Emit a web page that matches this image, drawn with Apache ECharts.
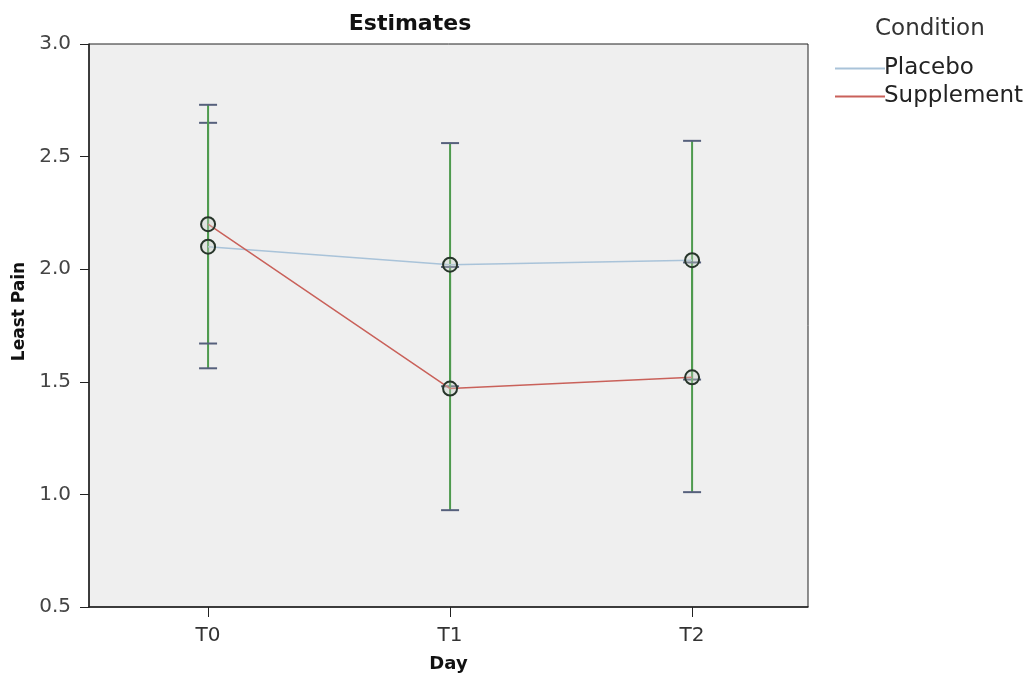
<!DOCTYPE html>
<html>
<head>
<meta charset="utf-8">
<script src="https://cdn.jsdelivr.net/npm/echarts@6/dist/echarts.min.js"></script>
<style>
  html, body { margin: 0; padding: 0; background: #fff; }
  #chart { width: 1034px; height: 681px; }
</style>
</head>
<body>
<div id="chart"></div>
<script>
// data
var days = ['T0', 'T1', 'T2'];
var placeboMean = [2.10, 2.02, 2.04];
var placeboLow = [1.56, 1.48, 1.51];
var placeboHigh = [2.65, 2.56, 2.57];
var suppMean = [2.20, 1.47, 1.52];
var suppLow = [1.67, 0.93, 1.01];
var suppHigh = [2.73, 2.01, 2.03];

var font = 'DejaVu Sans';

function pairs(vals) {
    var out = [];
    for (var i = 0; i < vals.length; i++) out.push([i, vals[i]]);
    return out;
}
function errData(low, high) {
    var out = [];
    for (var i = 0; i < low.length; i++) out.push([i, low[i], high[i]]);
    return out;
}

// vertical whisker with caps
function renderErr(params, api) {
    var x = api.value(0);
    var lo = api.coord([x, api.value(1)]);
    var hi = api.coord([x, api.value(2)]);
    var w = 9;
    return {
        type: 'group',
        children: [
            { type: 'line', shape: { x1: lo[0], y1: lo[1], x2: hi[0], y2: hi[1] },
              style: { stroke: '#4e9a4e', lineWidth: 2 } },
            { type: 'line', shape: { x1: hi[0] - w, y1: hi[1], x2: hi[0] + w, y2: hi[1] },
              style: { stroke: '#56607c', lineWidth: 2 } },
            { type: 'line', shape: { x1: lo[0] - w, y1: lo[1], x2: lo[0] + w, y2: lo[1] },
              style: { stroke: '#56607c', lineWidth: 2 } }
        ]
    };
}

var myChart = echarts.init(document.getElementById('chart'));
var option = {
    backgroundColor: '#ffffff',
    animation: false,
    title: [{
        text: 'Estimates',
        left: 405,
        top: 8,
        textAlign: 'center',
        textStyle: { fontFamily: font, fontSize: 22, fontWeight: 'bold', color: '#111' }
    }, {
        text: 'Condition',
        left: 870,
        top: 13,
        textStyle: { fontFamily: font, fontSize: 23, fontWeight: 'normal', color: '#333' }
    }],
    legend: {
        orient: 'vertical',
        left: 830,
        top: 52,
        itemWidth: 50,
        itemHeight: 2,
        itemGap: 5,
        textStyle: { fontFamily: font, fontSize: 23, lineHeight: 23, color: '#222', padding: [0, 0, 0, -6] },
        data: [
            { name: 'Placebo', icon: 'rect', itemStyle: { color: '#a9c3d9', borderWidth: 0 } },
            { name: 'Supplement', icon: 'rect', itemStyle: { color: '#c9615a', borderWidth: 0 } }
        ]
    },
    grid: {
        left: 89,
        right: 226,
        top: 44,
        bottom: 74,
        show: true,
        backgroundColor: '#efefef',
        borderColor: '#222',
        borderWidth: 1
    },
    xAxis: {
        type: 'value',
        min: -0.492,
        max: 2.479,
        name: 'Day',
        nameLocation: 'middle',
        nameGap: 48,
        nameTextStyle: { fontFamily: font, fontSize: 18, fontWeight: 'bold', color: '#111' },
        axisLine: { show: true, onZero: false, lineStyle: { color: '#222', width: 1.5 } },
        axisTick: { show: true, customValues: [0, 1, 2], length: 10, lineStyle: { color: '#222' } },
        axisLabel: {
            customValues: [0, 1, 2],
            formatter: function (v) { return days[Math.round(v)]; },
            fontFamily: font, fontSize: 20, color: '#333', margin: 19
        },
        splitLine: { show: false }
    },
    yAxis: {
        type: 'value',
        min: 0.5,
        max: 3.0,
        interval: 0.5,
        name: 'Least Pain',
        nameLocation: 'middle',
        nameGap: 52,
        nameTextStyle: { fontFamily: font, fontSize: 17, fontWeight: 'bold', color: '#111', padding: [0, 0, 0, 28] },
        axisLine: { show: true, onZero: false, lineStyle: { color: '#222', width: 1.5 } },
        axisTick: { show: true, length: 9, lineStyle: { color: '#222' } },
        axisLabel: {
            formatter: function (v) { return v.toFixed(1); },
            fontFamily: font, fontSize: 20, color: '#444', margin: 18
        },
        splitLine: { show: false }
    },
    series: [{
        name: 'PlaceboErr',
        type: 'custom',
        renderItem: renderErr,
        data: errData(placeboLow, placeboHigh),
        z: 2
    }, {
        name: 'SuppErr',
        type: 'custom',
        renderItem: renderErr,
        data: errData(suppLow, suppHigh),
        z: 2
    }, {
        name: 'Placebo',
        type: 'line',
        data: pairs(placeboMean),
        lineStyle: { color: '#a9c3d9', width: 1.5 },
        symbol: 'circle',
        symbolSize: 14,
        itemStyle: { color: 'rgba(200,210,200,0.35)', borderColor: '#27352a', borderWidth: 2 },
        z: 3
    }, {
        name: 'Supplement',
        type: 'line',
        data: pairs(suppMean),
        lineStyle: { color: '#c9615a', width: 1.5 },
        symbol: 'circle',
        symbolSize: 14,
        itemStyle: { color: 'rgba(200,210,200,0.35)', borderColor: '#27352a', borderWidth: 2 },
        z: 3
    }]
};
myChart.setOption(option);
</script>
</body>
</html>
